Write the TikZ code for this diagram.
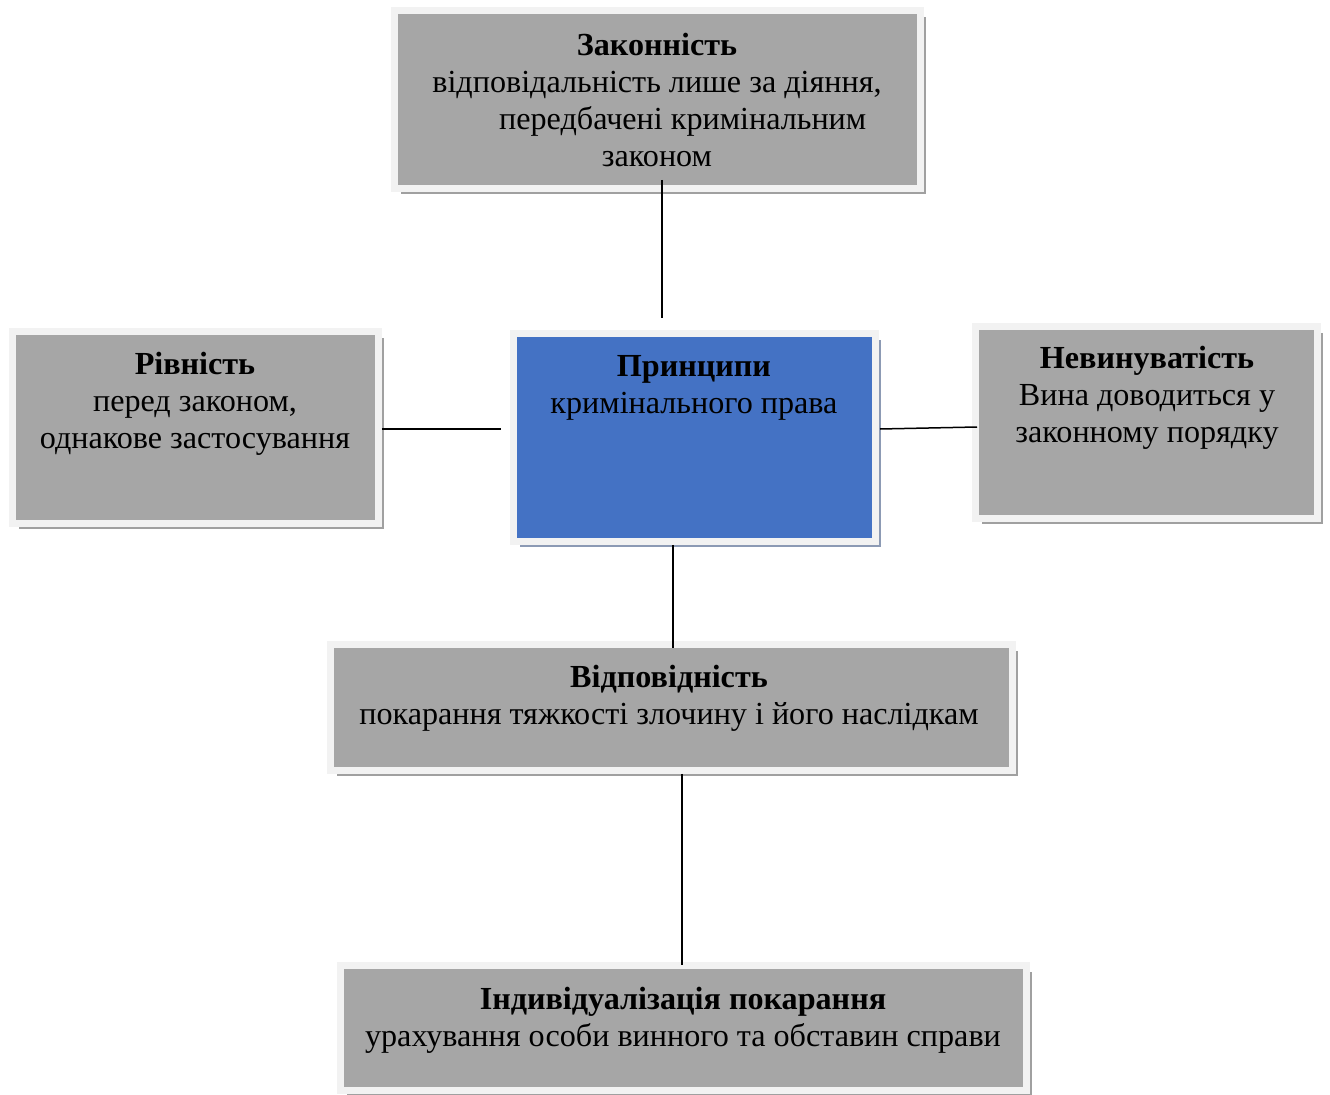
\documentclass[tikz,border=0pt]{standalone}
\usepackage{fontspec}
\setmainfont{Liberation Serif}
\usetikzlibrary{shadows}
\definecolor{boxgray}{HTML}{A6A6A6}
\definecolor{framegray}{HTML}{F2F2F2}
\definecolor{shadowgray}{HTML}{A0A0A0}
\definecolor{shadowblue}{HTML}{8C9AB4}
\definecolor{mainblue}{HTML}{4472C4}
\begin{document}
\begin{tikzpicture}[x=0.02cm, y=-0.02cm,
    box/.style={rectangle, inner sep=0pt, draw=framegray, line width=0.14cm, fill=boxgray,
      drop shadow={shadow xshift=0.12cm, shadow yshift=-0.12cm, fill=shadowgray, opacity=1}},
    txt/.style={align=center, inner sep=0pt, font=\fontsize{18.3}{21.2}\selectfont}]
        \useasboundingbox (0,0) rectangle (1330,1095);

        % Boxes
        \node (top) [box, minimum width=10.52cm, minimum height=3.56cm] at (657.5,99.5) {};
        \node (centre) [box, fill=mainblue, drop shadow={shadow xshift=0.12cm, shadow yshift=-0.12cm, fill=shadowblue, opacity=1}, minimum width=7.24cm, minimum height=4.16cm] at (694.5,437.5) {};
        \node (left) [box, minimum width=7.32cm, minimum height=3.84cm] at (195.5,427.5) {};
        \node (right) [box, minimum width=6.84cm, minimum height=3.84cm] at (1146.5,422.5) {};
        \node (mid) [box, minimum width=13.64cm, minimum height=2.52cm] at (671.5,707.5) {};
        \node (bottom) [box, minimum width=13.72cm, minimum height=2.5cm] at (683.5,1028) {};

        % Texts
        \node (top-txt) [txt] at (657,100) {\textbf{Законність}\\відповідальність лише за діяння,\\\hspace*{1.6em}передбачені кримінальним\\законом};
        \node (centre-txt) [txt] at (694,388) {\textbf{Принципи}\\кримінального права};
        \node (left-txt) [txt] at (195,404) {\textbf{Рівність}\\перед законом,\\однакове застосування};
        \node (right-txt) [txt] at (1147,398) {\textbf{Невинуватість}\\Вина доводиться у\\законному порядку};
        \node (mid-txt) [txt] at (669,698) {\textbf{Відповідність}\\покарання тяжкості злочину і його наслідкам};
        \node (bottom-txt) [txt] at (683,1020) {\textbf{Індивідуалізація покарання}\\урахування особи винного та обставин справи};

        % Edges
        \coordinate (t1) at (662,180);
        \coordinate (t2) at (662,318);
        \coordinate (l2) at (501,429);
        \coordinate (r1) at (880,429);
        \coordinate (r2) at (977,427);
        \coordinate (m1) at (673,648);
        \coordinate (b1) at (682,965);
        \draw[line width=0.03cm] (t1) -- (t2);
        \draw[line width=0.03cm] (left.east |- l2) -- (l2);
        \draw[line width=0.03cm] (r1) -- (r2);
        \draw[line width=0.03cm] (centre.south -| m1) -- (m1);
        \draw[line width=0.03cm] (mid.south -| b1) -- (b1);
    \end{tikzpicture}
\end{document}
